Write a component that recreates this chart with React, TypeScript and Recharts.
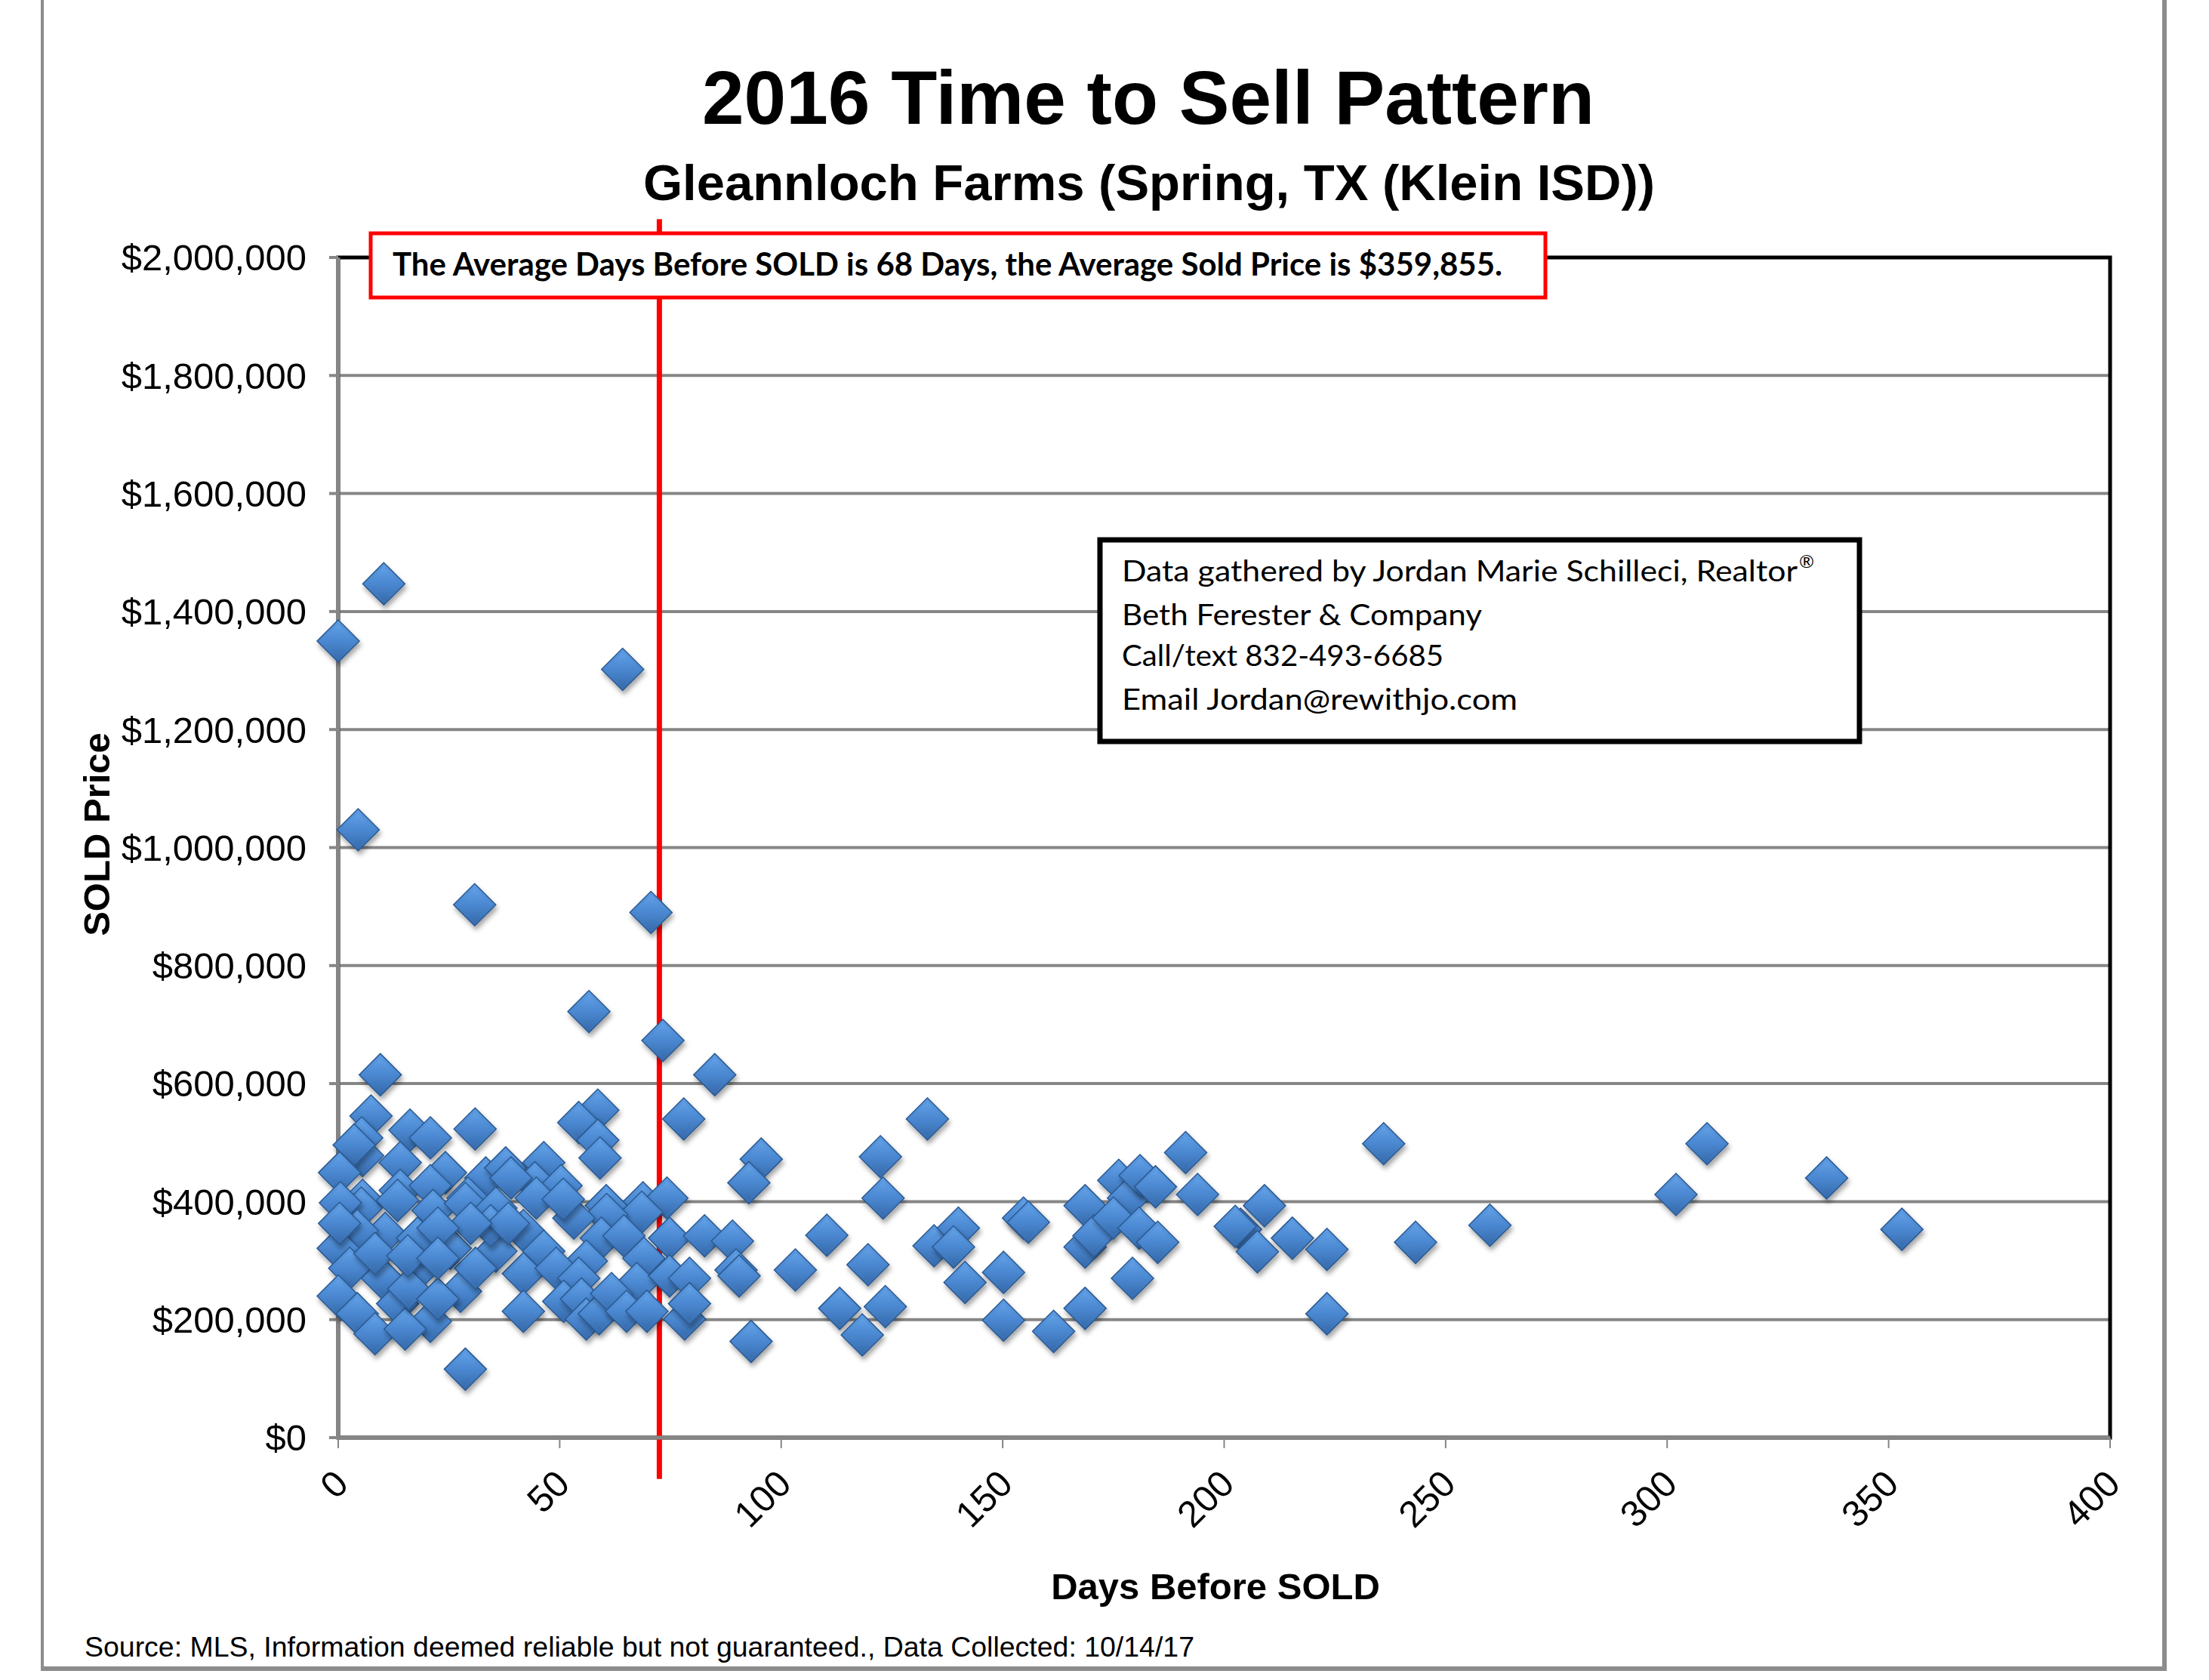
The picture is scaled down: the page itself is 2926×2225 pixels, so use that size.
import React from 'react';
import {
  ScatterChart,
  Scatter,
  XAxis,
  YAxis,
  CartesianGrid,
  ReferenceLine,
  ReferenceArea
} from 'recharts';

// Days on market before the sale, one entry per sold home
const days = [
  0, 10.3, 64.2, 4.5, 30.8, 70.6, 56.6, 73.3, 85, 9.5,
  78, 58.6, 54.3, 58.6, 59.1, 7.4, 5.3, 5.5, 3.6, 16.2,
  20.8, 30.9, 14, 0.3, 24.2, 33.3, 37.8, 5.5, 14, 20.8,
  29.3, 46.4, 44.4, 50.3, 39, 68.8, 74.2, 60.5, 95.5, 92.7,
  68.5, 60.6, 53.2, 44.7, 50.8, 41.8, 59.4, 64.5, 74.8, 82.7,
  46.4, 56, 69, 41.8, 49.2, 54.3, 67.4, 74.8, 79.3, 41.8,
  50.9, 54.9, 56, 58.9, 61.7, 65.1, 69.7, 78.2, 79.3, 89,
  89.8, 90.5, 103.2, 93.2, 28.7, 5.2, 0.5, 13.4, 21.4, 28.7,
  35.6, 10.6, 17.9, 25.3, 35.6, 4.3, 0, 2.6, 10, 18.5,
  27.6, 0, 4.3, 13.4, 20.8, 8.3, 15.1, 15.9, 22.5, 31,
  34.4, 38.4, 29.9, 22.5, 0.3, 8.3, 15.7, 22.5, 110.3, 113.2,
  118.3, 119.6, 122.4, 123, 123.5, 133, 134.5, 140, 138.9, 141.5,
  150.2, 150.2, 154.7, 155.8, 161.5, 168.6, 168.6, 168.6, 170.6, 176.2,
  178.4, 175, 181, 184.5, 180.8, 185, 179.3, 191.3, 194, 203.7,
  202.5, 207.5, 209.1, 215.4, 223.2, 223.2, 236, 243.2, 260, 302,
  309, 336, 353
];

// Sold price in thousands of dollars, same order as days
const pricesK = [
  1350, 1447, 1302, 1030, 903, 890, 722, 673, 615, 615,
  540, 555, 534, 504, 474, 545, 508, 478, 496, 521,
  508, 523, 466, 449, 449, 440, 457, 402, 419, 427,
  406, 466, 432, 427, 440, 398, 406, 393, 472, 432,
  382, 378, 372, 406, 404, 351, 338, 342, 338, 342,
  316, 299, 304, 278, 287, 270, 261, 274, 270, 214,
  231, 235, 201, 210, 244, 214, 214, 201, 227, 333,
  284, 274, 284, 163, 116, 389, 398, 402, 385, 397,
  389, 346, 338, 321, 316, 351, 321, 287, 270, 287,
  248, 240, 210, 227, 197, 176, 184, 252, 235, 287,
  359, 363, 363, 355, 363, 312, 308, 304, 343, 219,
  174, 293, 476, 406, 222, 540, 325, 355, 323, 263,
  280, 199, 372, 365, 180, 219, 393, 323, 342, 436,
  406, 372, 444, 425, 355, 331, 270, 483, 412, 353,
  358, 315, 393, 338, 319, 210, 498, 331, 360, 412,
  498, 440, 353
];

const xTicks = [0, 50, 100, 150, 200, 250, 300, 350, 400];
const yTicks = [0, 200000, 400000, 600000, 800000, 1000000, 1200000, 1400000, 1600000, 1800000, 2000000];

// where the red marker line sits on the day axis
const avgLineDay = 72.5;

const infoLines = [
  'Data gathered by Jordan Marie Schilleci, Realtor',
  'Beth Ferester & Company',
  'Call/text 832-493-6685',
  'Email Jordan@rewithjo.com'
];

const ARIAL = '"Liberation Sans", Arial, sans-serif';
const CALIBRI = 'Lato, "Open Sans", sans-serif';
const GRID = '#868686';

const data = days.map((d, i) => ({ day: d, price: pricesK[i] * 1000 }));

const formatMoney = (v: number) => '$' + v.toLocaleString('en-US');

const Diamond = (props: any) => {
  const { cx, cy } = props;
  if (cx == null || cy == null) {return null;}
  const r = 28;
  const q = 22;
  return (
    <g filter="url(#dmdShadow)">
      <path
        d={`M${cx},${cy - r} L${cx + r},${cy} L${cx},${cy + r} L${cx - r},${cy} Z`}
        fill="url(#dmdFill)"
        stroke="#2c5a91"
        strokeWidth={1.5}
      />
      <path
        d={`M${cx},${cy - q} L${cx + q},${cy} L${cx},${cy + q} L${cx - q},${cy} Z`}
        fill="url(#dmdInner)"
        stroke="none"
      />
    </g>
  );
};

const XTick = ({ x, y, payload }: any) => {
  const ax = x + 16;
  const ay = y + 48;
  return (
    <text
      x={ax}
      y={ay}
      transform={`rotate(-45 ${ax} ${ay})`}
      textAnchor="end"
      fontFamily={ARIAL}
      fontSize={49}
      fill="#000"
    >
      {payload.value}
    </text>
  );
};

export default function App() {
  return (
    <div style={{ position: 'absolute', left: 0, top: 0, width: 2926, height: 2225, background: '#fff' }}>
      <svg width={0} height={0} style={{ position: 'absolute' }}>
        <defs>
          <linearGradient id="dmdFill" x1="0" y1="0" x2="0" y2="1">
            <stop offset="0%" stopColor="#5d9ce3" />
            <stop offset="50%" stopColor="#4a87d0" />
            <stop offset="100%" stopColor="#366aab" />
          </linearGradient>
          <linearGradient id="dmdInner" x1="0" y1="0" x2="0" y2="1">
            <stop offset="0%" stopColor="#6aa8ec" stopOpacity={0.55} />
            <stop offset="50%" stopColor="#4c8ad3" stopOpacity={0.2} />
            <stop offset="100%" stopColor="#3468a8" stopOpacity={0.4} />
          </linearGradient>
          <filter id="dmdShadow" x="-50%" y="-50%" width="200%" height="200%">
            <feDropShadow dx="2" dy="5" stdDeviation="3" floodColor="#000" floodOpacity="0.35" />
          </filter>
        </defs>
      </svg>

      <div style={{ position: 'absolute', left: 0, top: 0 }}>
        <ScatterChart
          width={2926}
          height={2225}
          margin={{ top: 341, right: 131, bottom: 0, left: 0 }}
        >
          <CartesianGrid horizontal vertical={false} stroke={GRID} strokeWidth={4} />
          <XAxis
            type="number"
            dataKey="day"
            domain={[0, 400]}
            ticks={xTicks}
            interval={0}
            height={321}
            tick={<XTick />}
            tickSize={14}
            tickLine={{ stroke: GRID, strokeWidth: 2 }}
            axisLine={{ stroke: GRID, strokeWidth: 5 }}
          />
          <YAxis
            type="number"
            dataKey="price"
            domain={[0, 2000000]}
            ticks={yTicks}
            interval={0}
            width={448}
            tickFormatter={formatMoney}
            tick={{ fontFamily: ARIAL, fontSize: 49, fill: '#000' }}
            tickSize={12}
            tickMargin={30}
            tickLine={{ stroke: GRID, strokeWidth: 4 }}
            axisLine={{ stroke: GRID, strokeWidth: 5 }}
          />
          <ReferenceArea
            x1={0}
            x2={400}
            y1={0}
            y2={2000000}
            fill="none"
            stroke="#000"
            strokeWidth={5}
            strokeOpacity={1}
            fillOpacity={0}
          />
          <Scatter data={data} shape={<Diamond />} isAnimationActive={false} />
          <ReferenceLine
            segment={[{ x: avgLineDay, y: -70000 }, { x: avgLineDay, y: 2065000 }]}
            stroke="#ff0000"
            strokeWidth={7}
            ifOverflow="visible"
          />
        </ScatterChart>
      </div>

      <svg
        width={2926}
        height={2225}
        style={{ position: 'absolute', left: 0, top: 0, pointerEvents: 'none' }}
      >
        {/* outer frame */}
        <line x1={56} y1={0} x2={56} y2={2210} stroke="#8c8c8c" strokeWidth={4} />
        <line x1={2867} y1={0} x2={2867} y2={2210} stroke="#8c8c8c" strokeWidth={6} />
        <line x1={54} y1={2210} x2={2870} y2={2210} stroke="#8c8c8c" strokeWidth={6} />

        <text x={1521} y={164} textAnchor="middle" fontFamily={ARIAL} fontWeight="bold" fontSize={100} fill="#000">
          2016 Time to Sell Pattern
        </text>
        <text x={1522} y={265} textAnchor="middle" fontFamily={ARIAL} fontWeight="bold" fontSize={67} fill="#000">
          Gleannloch Farms (Spring, TX (Klein ISD))
        </text>

        {/* average annotation */}
        <rect x={491} y={309} width={1556} height={85} fill="#fff" stroke="#ff0000" strokeWidth={5} />
        <text
          x={520}
          y={365}
          fontFamily={CALIBRI}
          fontWeight="bold"
          fontSize={42}
          fill="#000"
          textLength={1470}
          lengthAdjust="spacingAndGlyphs"
        >
          The Average Days Before SOLD is 68 Days, the Average Sold Price is $359,855.
        </text>

        {/* contact box */}
        <rect x={1457} y={715} width={1006} height={267} fill="#fff" stroke="#000" strokeWidth={7} />
        <text x={1486} y={770} fontFamily={CALIBRI} fontSize={38} fill="#000" textLength={895} lengthAdjust="spacingAndGlyphs">
          {infoLines[0]}
        </text>
        <text x={2383} y={752} fontFamily={CALIBRI} fontSize={24} fill="#000">®</text>
        <text x={1486} y={828} fontFamily={CALIBRI} fontSize={38} fill="#000" textLength={477} lengthAdjust="spacingAndGlyphs">
          {infoLines[1]}
        </text>
        <text x={1486} y={882} fontFamily={CALIBRI} fontSize={38} fill="#000" textLength={426} lengthAdjust="spacingAndGlyphs">
          {infoLines[2]}
        </text>
        <text x={1486} y={940} fontFamily={CALIBRI} fontSize={38} fill="#000" textLength={524} lengthAdjust="spacingAndGlyphs">
          {infoLines[3]}
        </text>

        {/* axis titles */}
        <text
          x={145}
          y={1105}
          transform="rotate(-90 145 1105)"
          textAnchor="middle"
          fontFamily={ARIAL}
          fontWeight="bold"
          fontSize={49}
          fill="#000"
        >
          SOLD Price
        </text>
        <text x={1610} y={2118} textAnchor="middle" fontFamily={ARIAL} fontWeight="bold" fontSize={49} fill="#000">
          Days Before SOLD
        </text>

        <text
          x={112}
          y={2194}
          fontFamily={ARIAL}
          fontSize={36}
          fill="#000"
          textLength={1470}
          lengthAdjust="spacingAndGlyphs"
        >
          Source: MLS, Information deemed reliable but not guaranteed., Data Collected: 10/14/17
        </text>
      </svg>
    </div>
  );
}
